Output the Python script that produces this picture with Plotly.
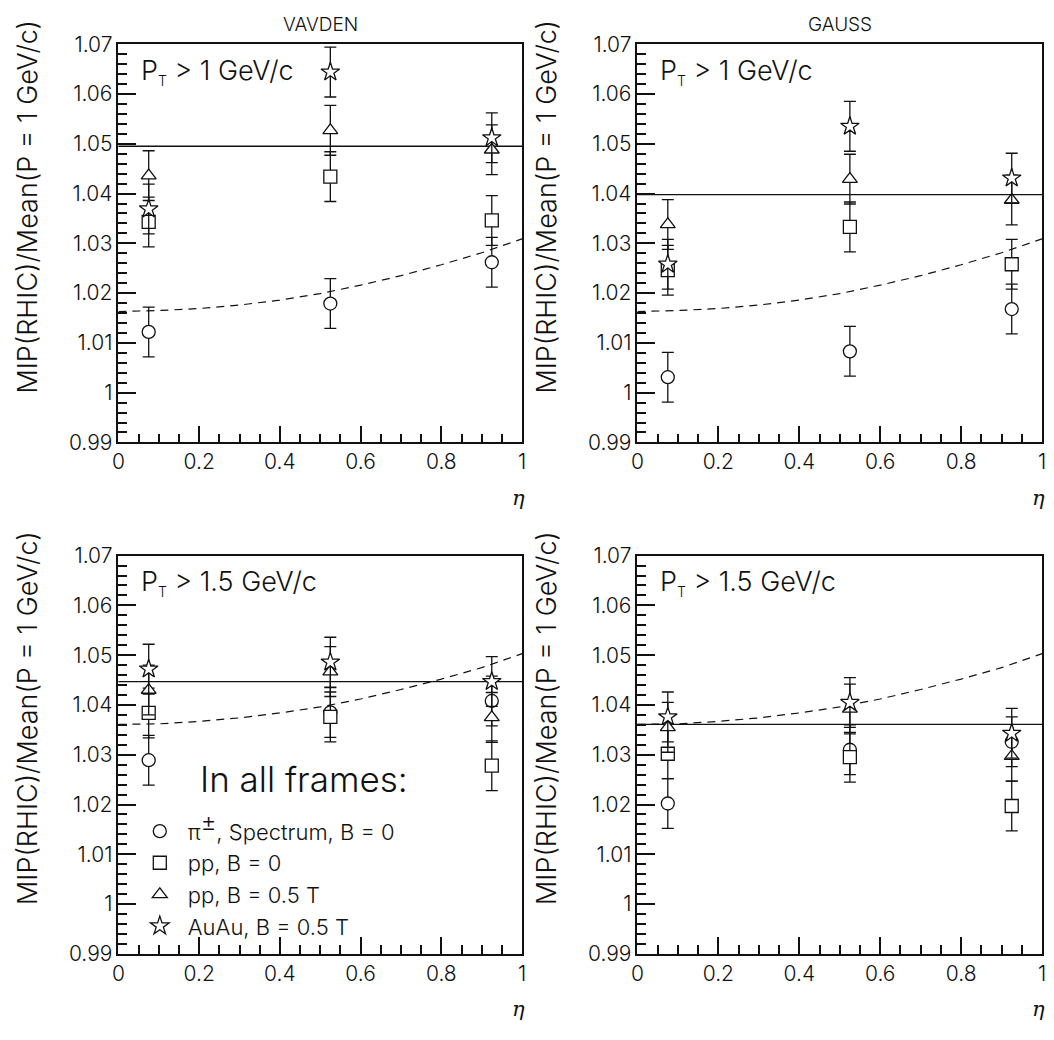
import plotly.graph_objects as go

# ---------------- data ----------------
eta = [0.075, 0.525, 0.925]

# VAVDEN, PT > 1 GeV/c
vav1_pi = [1.0122, 1.0179, 1.0262]
vav1_pp0 = [1.0343, 1.0434, 1.0346]
vav1_pp05 = [1.0436, 1.0527, 1.0488]
vav1_auau = [1.0369, 1.0644, 1.0512]
vav1_fit = 1.0495

# GAUSS, PT > 1 GeV/c
gau1_pi = [1.0031, 1.0083, 1.0168]
gau1_pp0 = [1.0246, 1.0333, 1.0258]
gau1_pp05 = [1.0338, 1.0429, 1.0387]
gau1_auau = [1.0258, 1.0535, 1.0431]
gau1_fit = 1.0398

# VAVDEN, PT > 1.5 GeV/c
vav15_pi = [1.0289, 1.0385, 1.0408]
vav15_pp0 = [1.0384, 1.0376, 1.0278]
vav15_pp05 = [1.0430, 1.0467, 1.0375]
vav15_auau = [1.0472, 1.0486, 1.0447]
vav15_fit = 1.0447

# GAUSS, PT > 1.5 GeV/c
gau15_pi = [1.0202, 1.0310, 1.0326]
gau15_pp0 = [1.0302, 1.0295, 1.0197]
gau15_pp05 = [1.0355, 1.0392, 1.0297]
gau15_auau = [1.0376, 1.0405, 1.0343]
gau15_fit = 1.0361

err = [0.005, 0.005, 0.005]

# reference curves (dashed)
curve_eta = [0.0, 0.1, 0.2, 0.3, 0.4, 0.5, 0.6, 0.7, 0.8, 0.9, 1.0]
curve_pt1 = [1.0163, 1.0165, 1.0169, 1.0176, 1.0186, 1.0199, 1.0216, 1.0235, 1.0257, 1.0281, 1.0309]
curve_pt15 = [1.0361, 1.0362, 1.0367, 1.0374, 1.0384, 1.0396, 1.0412, 1.0431, 1.0452, 1.0475, 1.0503]

series_names = ["π<sup><span style='font-size:24px'>±</span></sup>, Spectrum, B = 0",
                "pp, B = 0", "pp, B = 0.5 T", "AuAu, B = 0.5 T"]
series_symbols = ["circle", "square", "triangle-up", "star"]

column_titles = ["VAVDEN", "GAUSS"]
pt_labels = ["P<sub><span style='font-size:14px'>T</span></sub> > 1 GeV/c",
             "P<sub><span style='font-size:14px'>T</span></sub> > 1.5 GeV/c"]
y_title = "MIP(RHIC)/Mean(P = 1 GeV/c)"
x_title = "η"

# ---------------- layout geometry (pixels) ----------------
W, H = 1054, 1040
FONT = "Inter"
FW = 300
INK = "#111111"

panels = [
    ("", (113.5, 521), (32, 440), [vav1_pi, vav1_pp0, vav1_pp05, vav1_auau], vav1_fit, curve_pt1, 0, 0),
    ("2", (637.5, 1046), (32, 440), [gau1_pi, gau1_pp0, gau1_pp05, gau1_auau], gau1_fit, curve_pt1, 0, 1),
    ("3", (113.5, 521), (556, 964), [vav15_pi, vav15_pp0, vav15_pp05, vav15_auau], vav15_fit, curve_pt15, 1, 0),
    ("4", (637.5, 1046), (556, 964), [gau15_pi, gau15_pp0, gau15_pp05, gau15_auau], gau15_fit, curve_pt15, 1, 1),
]


def px(xp):
    return xp / W


def py(yp):
    return 1 - yp / H


def font(size, **kw):
    return dict(family=FONT, size=size, color=INK, weight=FW, **kw)


fig = go.Figure()
shapes = []
annotations = []
layout_axes = {}

for idx, (sfx, (x0, x1), (yt, yb), series, fit, curve, pti, col) in enumerate(panels):
    xa = "x" + sfx
    ya = "y" + sfx
    # dashed curve
    fig.add_trace(go.Scatter(
        x=curve_eta, y=curve, xaxis=xa, yaxis=ya, mode="lines",
        line=dict(color=INK, width=1.2, dash="8px,6px"), showlegend=False, hoverinfo="skip"))
    # data series
    for k, (vals, name, sym) in enumerate(zip(series, series_names, series_symbols)):
        fig.add_trace(go.Scatter(
            x=eta, y=vals, xaxis=xa, yaxis=ya, mode="markers", name=name,
            legendgroup="g%d" % k,
            showlegend=(idx == 2),
            marker=dict(symbol=sym, size=13 if sym != "star" else 14, color="white",
                        line=dict(color=INK, width=1.3)),
            error_y=dict(type="data", array=err, visible=True, color=INK, thickness=1.3, width=6),
        ))
    # horizontal fit line
    shapes.append(dict(type="line", xref=xa + " domain", yref=ya, x0=0, x1=1, y0=fit, y1=fit,
                       line=dict(color=INK, width=1.3), layer="below"))

    axis_common = dict(showgrid=False, zeroline=False, showline=True, linecolor=INK,
                       linewidth=1.6, mirror=True, ticks="inside", tickcolor=INK, tickwidth=2,
                       tickfont=font(21), layer="above traces")
    xkey = "xaxis" + sfx
    ykey = "yaxis" + sfx
    layout_axes[xkey] = dict(axis_common, domain=[px(x0), px(x1)], anchor=ya, range=[0, 1],
                             dtick=0.2, ticklen=17,
                             minor=dict(ticks="inside", ticklen=9, tickcolor=INK, tickwidth=2,
                                        dtick=0.05))
    layout_axes[ykey] = dict(axis_common, domain=[py(yb), py(yt)], anchor=xa, range=[0.99, 1.07],
                             dtick=0.01, ticklen=18,
                             minor=dict(ticks="inside", ticklen=9, tickcolor=INK, tickwidth=2,
                                        dtick=0.002))

    # PT label
    annotations.append(dict(text=pt_labels[pti], xref="paper", yref="paper",
                            x=px(x0 + 21), y=py(yt + 28), xanchor="left", yanchor="middle",
                            showarrow=False, font=font(27)))
    # eta label
    annotations.append(dict(text=x_title, xref="paper", yref="paper",
                            x=px(x1 - 4), y=py(yb + 57), xanchor="center", yanchor="middle",
                            showarrow=False, font=dict(family="DejaVu Serif", size=21, color=INK,
                                                       style="italic")))
    # y title
    annotations.append(dict(text=y_title, xref="paper", yref="paper", textangle=-90,
                            x=px(x0 - 92), y=py(yt + 166), xanchor="center", yanchor="middle",
                            showarrow=False, font=font(27)))
    # column title
    if yt < 100:
        annotations.append(dict(text=column_titles[col], xref="paper", yref="paper",
                                x=px((x0 + x1) / 2), y=py(12), xanchor="center", yanchor="middle",
                                showarrow=False, font=font(19)))

annotations.append(dict(text="In all frames:", xref="paper", yref="paper",
                        x=px(194), y=py(785), xanchor="left", yanchor="middle",
                        showarrow=False, font=font(35)))

fig.update_layout(
    width=W, height=H, margin=dict(l=0, r=0, t=0, b=0),
    paper_bgcolor="white", plot_bgcolor="white",
    shapes=shapes, annotations=annotations,
    legend=dict(x=px(127), y=py(817), xanchor="left", yanchor="top",
                bgcolor="rgba(0,0,0,0)", borderwidth=0, tracegroupgap=0,
                itemwidth=46, font=font(22)),
    **layout_axes,
)

fig.write_html("out.html")
